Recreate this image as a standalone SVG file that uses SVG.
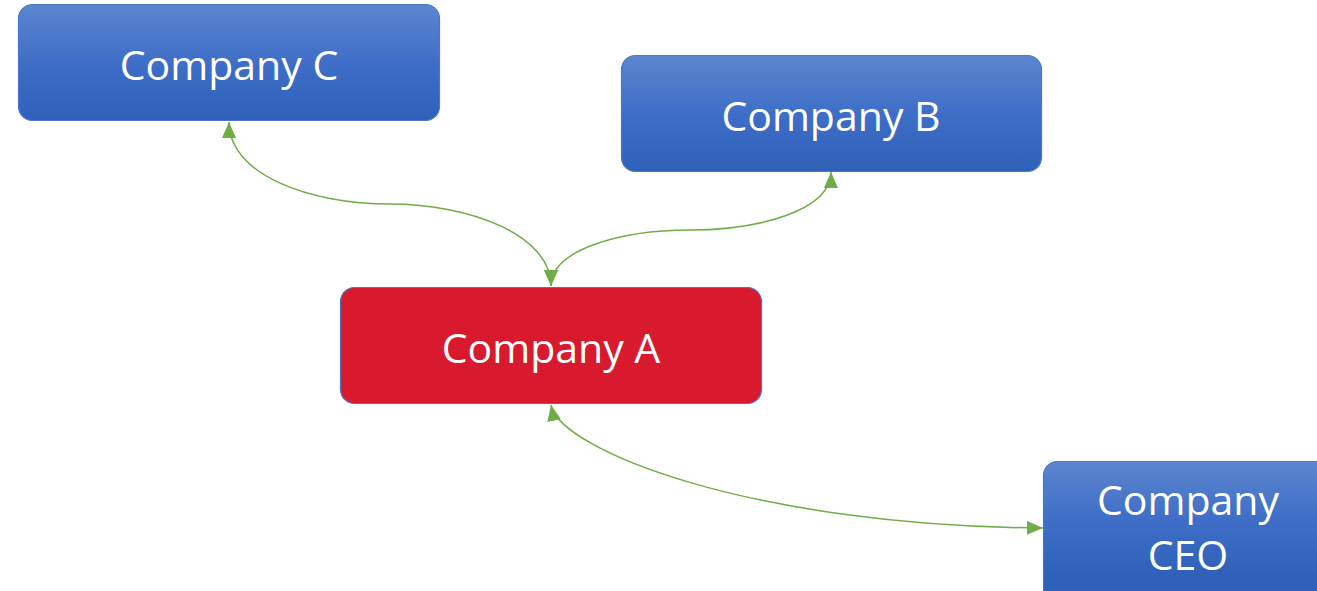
<svg xmlns="http://www.w3.org/2000/svg" width="1317" height="591" viewBox="0 0 1317 591">
<style>
.box{stroke:#4A78C8;stroke-width:1.2}
.blue{fill:url(#bg)}
.red{fill:#D9192E}
.lbl{font-family:"Open Sans","Noto Sans","Liberation Sans",sans-serif;font-size:41px;fill:#FFFFFF;text-anchor:middle}
.con{fill:none;stroke:#70AD47;stroke-width:1.5}
</style>
<defs>
<linearGradient id="bg" x1="0" y1="0" x2="0" y2="1">
<stop offset="0" stop-color="#5D86CF"/>
<stop offset="0.5" stop-color="#3E6EC7"/>
<stop offset="1" stop-color="#2F61B9"/>
</linearGradient>
<linearGradient id="bgCeo" gradientUnits="userSpaceOnUse" x1="0" y1="461" x2="0" y2="578">
<stop offset="0" stop-color="#5D86CF"/>
<stop offset="0.5" stop-color="#3E6EC7"/>
<stop offset="1" stop-color="#2F61B9"/>
</linearGradient>
<marker id="arr" viewBox="0 0 16 14" refX="16" refY="7" markerWidth="16" markerHeight="14" markerUnits="userSpaceOnUse" orient="auto-start-reverse">
<path d="M0,0 L16,7 L0,14 Z" fill="#70AD47"/>
</marker>
</defs>
<g id="connectors">
<path class="con" d="M229,122 C229,175 310,204 390,204 C470,204 551,235 551,286" marker-start="url(#arr)" marker-end="url(#arr)"/>
<path class="con" d="M831,172 C831,210 760,230 690,230 C620,230 551,250 551,286" marker-start="url(#arr)" marker-end="url(#arr)"/>
<path class="con" d="M551,405 C560,450 750,526 1043,528" marker-start="url(#arr)" marker-end="url(#arr)"/>
</g>
<g id="company-c">
<rect class="box blue" x="18.5" y="4.5" width="421" height="116" rx="14"/>
<text class="lbl" x="229" y="80">Company C</text>
</g>
<g id="company-b">
<rect class="box blue" x="621.5" y="55.5" width="420" height="116" rx="14"/>
<text class="lbl" x="831" y="131">Company B</text>
</g>
<g id="company-a">
<rect class="box red" x="340.5" y="287.5" width="421" height="116" rx="14"/>
<text class="lbl" x="551" y="363">Company A</text>
</g>
<g id="company-ceo">
<rect class="box" fill="url(#bgCeo)" x="1043.5" y="461.5" width="421" height="150" rx="14"/>
<text class="lbl" x="1188" y="515">Company</text>
<text class="lbl" x="1188" y="570">CEO</text>
</g>
</svg>
